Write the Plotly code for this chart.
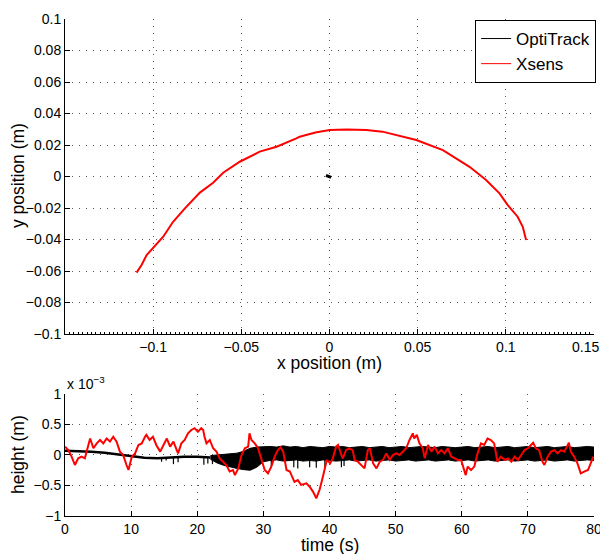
import plotly.graph_objects as go

# ---- top panel: horizontal position (m)
xsens_x = [-0.1094, -0.1065, -0.1037, -0.0990, -0.0943, -0.0887, -0.0820, -0.0735, -0.0660, -0.0603,
           -0.0509, -0.0396, -0.0300, -0.0188, -0.0169, -0.0080, 0.0001, 0.0100, 0.0209, 0.0300,
           0.0379, 0.0492, 0.0643, 0.0794, 0.0888, 0.0964, 0.1011, 0.1067, 0.1096, 0.1115]
xsens_y = [-0.0610, -0.0560, -0.0498, -0.0440, -0.0382, -0.0287, -0.0202, -0.0102, -0.0039, 0.0024,
           0.0094, 0.0158, 0.0189, 0.0242, 0.0253, 0.0280, 0.0295, 0.0298, 0.0295, 0.0285,
           0.0263, 0.0232, 0.0168, 0.0062, -0.0022, -0.0107, -0.0181, -0.0255, -0.0319, -0.0403]
opti_x = [-0.0020, -0.0010, 0.0, 0.0005, 0.0009]
opti_y = [0.0008, 0.0003, -0.0002, -0.0004, -0.0006]

# ---- bottom panel: height (x 1e-3 m)
xsens_t = [0, 0.5, 1.0, 1.5, 2.0, 2.5, 3.0, 3.5, 3.8, 4.3,
           4.8, 5.3, 5.8, 6.3, 6.8, 7.3, 7.8, 8.3, 8.8, 9.3,
           9.6, 10.1, 10.6, 11.1, 11.6, 12.1, 12.3, 12.8, 13.3, 13.8,
           14.4, 14.9, 15.4, 15.9, 16.4, 16.9, 17.1, 17.6, 18.1, 18.6,
           19.1, 19.6, 20.1, 20.6, 20.9, 21.1, 21.4, 21.9, 22.4, 22.9,
           23.4, 23.9, 24.4, 24.9, 25.4, 25.7, 26.2, 26.7, 27.2, 27.7,
           27.9, 28.2, 28.7, 29.2, 29.7, 30.2, 30.7, 31.2, 31.7, 32.2,
           32.6, 33.0, 33.5, 34.0, 34.7, 35.2, 35.7, 36.5, 37.0, 37.5,
           38.0, 38.5, 39.0, 39.6, 40.1, 40.5, 41.0, 41.3, 41.8, 42.0,
           42.5, 43.0, 43.5, 43.8, 44.3, 44.8, 45.3, 45.8, 46.1, 46.6,
           47.1, 47.6, 48.1, 48.6, 49.1, 49.6, 50.1, 50.6, 51.1, 51.6,
           52.1, 52.6, 52.8, 53.2, 53.6, 54.1, 54.4, 54.9, 55.4, 55.9,
           56.4, 56.9, 57.4, 57.9, 58.4, 58.9, 59.4, 59.9, 60.3, 60.6,
           60.9, 61.4, 61.9, 62.4, 62.9, 63.4, 63.9, 64.4, 64.9, 65.4,
           65.9, 66.5, 67.0, 67.5, 68.0, 68.5, 69.0, 69.5, 70.0, 70.5,
           70.8, 71.2, 71.7, 72.2, 72.5, 73.0, 73.5, 74.0, 74.5, 75.0,
           75.5, 75.9, 76.2, 76.5, 77.0, 77.5, 78.0, 78.6, 79.1, 79.6,
           79.9]
xsens_h = [0.137, 0.08, -0.027, -0.164, -0.055, -0.027, -0.055, 0.164, 0.27, 0.11,
           0.19, 0.246, 0.19, 0.27, 0.22, 0.30, 0.22, 0.055, 0.0, -0.164,
           -0.246, -0.027, 0.027, 0.164, 0.19, 0.30, 0.33, 0.246, 0.30, 0.164,
           0.055, 0.164, 0.27, 0.137, 0.22, 0.08, 0.027, 0.19, 0.246, 0.355,
           0.41, 0.44, 0.38, 0.44, 0.41, 0.30, 0.19, 0.246, 0.11, 0.055,
           -0.055, -0.11, -0.164, -0.27, -0.246, -0.33, -0.22, 0.0, 0.11, 0.137,
           0.355, 0.246, 0.19, 0.11, -0.08, -0.246, -0.30, -0.19, -0.027, 0.08,
           0.126, 0.055, -0.246, -0.27, -0.44, -0.41, -0.49, -0.465, -0.52, -0.60,
           -0.71, -0.57, -0.355, -0.08, -0.137, -0.055, 0.137, 0.164, 0.0, -0.055,
           0.08, 0.11, 0.08, -0.08, -0.11, -0.164, -0.22, 0.08, 0.11, -0.137,
           -0.22, -0.11, -0.08, 0.027, -0.08, 0.0, 0.027, 0.0, 0.055, 0.11,
           0.246, 0.355, 0.27, 0.33, 0.19, 0.11, -0.055, 0.164, 0.055, 0.137,
           0.027, 0.08, 0.027, 0.11, -0.027, -0.055, -0.08, -0.08, -0.246, -0.33,
           -0.19, -0.246, -0.19, 0.027, 0.19, 0.164, 0.27, 0.246, 0.19, -0.11,
           -0.027, -0.08, -0.055, -0.11, -0.027, -0.08, 0.0, 0.08, 0.11, 0.164,
           0.20, 0.11, 0.08, -0.11, -0.164, -0.027, 0.055, 0.08, 0.027, 0.08,
           0.055, 0.137, 0.20, 0.055, -0.027, -0.137, -0.30, -0.27, -0.246, -0.11,
           -0.027]

# OptiTrack height: quiet part, then a noisy band (upper / lower envelope), plus dropouts
opti_t = [0, 2, 4, 6, 8, 10, 12, 14, 16, 18, 20, 22]
opti_h = [0.07, 0.065, 0.055, 0.035, 0.01, -0.015, -0.045, -0.055, -0.04, -0.027, -0.027, -0.04]
band_t = [22, 23, 24, 25, 26, 27, 28, 29, 30, 31, 32, 33, 34, 35, 36, 37, 38, 39, 40,
          41, 42, 43, 44, 45, 46, 47, 48, 49, 50, 51, 52, 53, 54, 55, 56, 57, 58, 59, 60,
          61, 62, 63, 64, 65, 66, 67, 68, 69, 70, 71, 72, 73, 74, 75, 76, 77, 78, 79, 80]
band_hi = [-0.01, 0.0, 0.0, 0.01, 0.03, 0.06, 0.11, 0.13, 0.14, 0.14, 0.13, 0.15, 0.13, 0.14, 0.12, 0.14, 0.13, 0.12, 0.14,
           0.13, 0.14, 0.12, 0.13, 0.14, 0.12, 0.13, 0.14, 0.12, 0.13, 0.14, 0.12, 0.13, 0.14, 0.13, 0.12, 0.14, 0.13, 0.12, 0.13,
           0.14, 0.12, 0.13, 0.14, 0.12, 0.13, 0.14, 0.12, 0.13, 0.14, 0.12, 0.13, 0.14, 0.12, 0.13, 0.14, 0.12, 0.13, 0.14, 0.13]
band_lo = [-0.07, -0.13, -0.17, -0.2, -0.22, -0.24, -0.25, -0.2, -0.11, -0.09, -0.08, -0.1, -0.09, -0.08, -0.1, -0.09, -0.1, -0.08, -0.09,
           -0.1, -0.09, -0.08, -0.1, -0.09, -0.08, -0.1, -0.09, -0.08, -0.1, -0.09, -0.08, -0.1, -0.09, -0.08, -0.1, -0.09, -0.08, -0.1, -0.09,
           -0.08, -0.1, -0.09, -0.08, -0.1, -0.09, -0.08, -0.1, -0.09, -0.08, -0.1, -0.09, -0.08, -0.1, -0.09, -0.08, -0.1, -0.09, -0.08, -0.09]
spike_t = [14.6, 15.3, 16.4, 17.1, 21.0, 21.6, 22.3, 31.2, 34.6, 35.2, 37.0, 38.0, 39.3, 41.8, 42.2]
spike_lo = [-0.11, -0.09, -0.15, -0.12, -0.16, -0.14, -0.15, -0.2, -0.2, -0.22, -0.2, -0.21, -0.2, -0.2, -0.18]

top_xticks = [-0.1, -0.05, 0, 0.05, 0.1, 0.15]
# last label sits on the window edge; it is drawn as an annotation below
top_xlabels = ["\u22120.1", "\u22120.05", "0", "0.05", "0.1", ""]
top_ylabels_vals = [0.1, 0.08, 0.06, 0.04, 0.02, 0, -0.02, -0.04, -0.06, -0.08, -0.1]
top_ylabels = ["0.1", "0.08", "0.06", "0.04", "0.02", "0",
               "\u22120.02", "\u22120.04", "\u22120.06", "\u22120.08", "\u22120.1"]
bot_xticks = [0, 10, 20, 30, 40, 50, 60, 70, 80]
bot_yticks = [-1, -0.5, 0, 0.5, 1]
bot_ylabels = ["\u22121", "\u22120.5", "0", "0.5", "1"]

FONT = "Liberation Sans, Arial, Helvetica, sans-serif"

fig = go.Figure()

# legend entries first
fig.add_trace(go.Scatter(x=[None], y=[None], mode="lines", name="OptiTrack",
                         line=dict(color="black", width=1), xaxis="x", yaxis="y"))
fig.add_trace(go.Scatter(x=[None], y=[None], mode="lines", name="Xsens",
                         line=dict(color="red", width=1), xaxis="x", yaxis="y"))

# top panel
fig.add_trace(go.Scatter(x=opti_x, y=opti_y, mode="lines", line=dict(color="black", width=3),
                         showlegend=False, xaxis="x", yaxis="y"))
fig.add_trace(go.Scatter(x=xsens_x, y=xsens_y, mode="lines", line=dict(color="red", width=2),
                         showlegend=False, xaxis="x", yaxis="y"))

# bottom panel, OptiTrack
fig.add_trace(go.Scatter(x=opti_t, y=opti_h, mode="lines", line=dict(color="black", width=2.5),
                         showlegend=False, xaxis="x2", yaxis="y2"))
fig.add_trace(go.Scatter(x=band_t, y=band_lo, mode="lines", line=dict(color="black", width=1),
                         showlegend=False, xaxis="x2", yaxis="y2"))
fig.add_trace(go.Scatter(x=band_t, y=band_hi, mode="lines", line=dict(color="black", width=1),
                         fill="tonexty", fillcolor="black",
                         showlegend=False, xaxis="x2", yaxis="y2"))
sx, sy = [], []
for t, lo in zip(spike_t, spike_lo):
    sx += [t, t, None]
    sy += [-0.04, lo, None]
fig.add_trace(go.Scatter(x=sx, y=sy, mode="lines", line=dict(color="black", width=1.2),
                         showlegend=False, xaxis="x2", yaxis="y2"))

# bottom panel, Xsens
fig.add_trace(go.Scatter(x=xsens_t, y=xsens_h, mode="lines", line=dict(color="red", width=2),
                         showlegend=False, xaxis="x2", yaxis="y2"))

axis_style = dict(showline=True, linecolor="black", linewidth=1, ticks="inside", ticklen=5,
                  tickcolor="black", showgrid=True, gridcolor="#555", griddash="1px,6px",
                  gridwidth=1, zeroline=False, automargin=False, ticklabeloverflow="allow",
                  tickfont=dict(size=14, color="black"))
TITLE_SIZE = 17.5


def label(text, x, y, angle=0):
    return dict(text=text, xref="paper", yref="paper", x=x, y=y, xanchor="center",
                yanchor="middle", showarrow=False, textangle=angle,
                font=dict(size=TITLE_SIZE, color="black"))


# the page body adds an 8px margin, so the figure is 8px smaller than the window
fig.update_layout(
    width=600, height=546,
    margin=dict(l=57, r=14, t=11, b=38),
    paper_bgcolor="white", plot_bgcolor="white",
    font=dict(family=FONT, size=14, color="black"),
    xaxis=dict(axis_style, domain=[0, 1], anchor="y", range=[-0.15, 0.15],
               tickvals=top_xticks, ticktext=top_xlabels,
               minor=dict(ticks="inside", ticklen=2, dtick=0.0025, tickcolor="black", showgrid=False)),
    yaxis=dict(axis_style, domain=[0.366, 1], anchor="x", range=[-0.1, 0.1],
               tickvals=top_ylabels_vals, ticktext=top_ylabels),
    xaxis2=dict(axis_style, domain=[0, 1], anchor="y2", range=[0, 80], tickvals=bot_xticks),
    yaxis2=dict(axis_style, domain=[0, 0.2455], anchor="x2", range=[-1, 1],
                tickvals=bot_yticks, ticktext=bot_ylabels),
    legend=dict(x=1.004, xanchor="right", y=0.998, yanchor="top", bgcolor="white",
                bordercolor="black", borderwidth=1, font=dict(size=17),
                traceorder="normal", tracegroupgap=0, itemwidth=30),
    annotations=[
        dict(text="x 10<sup>\u22123</sup>", xref="paper", yref="paper",
             x=0, y=0.2455, xanchor="left", yanchor="bottom", showarrow=False,
             font=dict(size=14, color="black")),
        dict(text="0.15", xref="paper", yref="paper", x=1, y=0.366,
             xanchor="right", yanchor="middle", xshift=7, yshift=-13, showarrow=False,
             font=dict(size=14, color="black")),
        label("x position (m)", 0.5, 0.3078),
        label("y position (m)", -0.0888, 0.684, -90),
        label("time (s)", 0.5, -0.0583),
        label("height (m)", -0.0888, 0.1227, -90),
    ],
)

fig.write_html("out.html")
